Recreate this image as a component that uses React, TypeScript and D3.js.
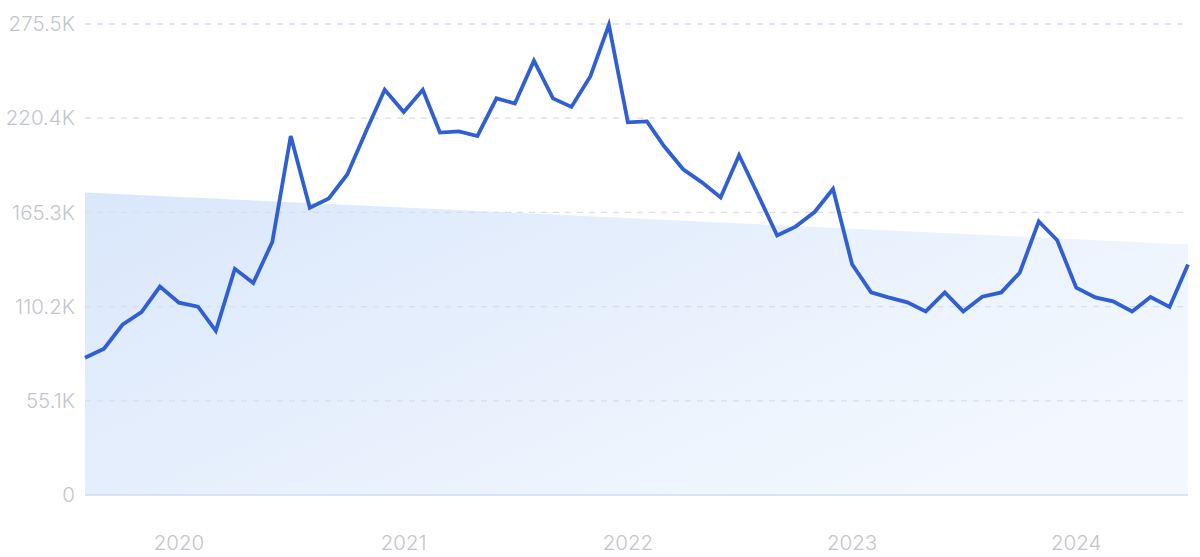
import { useRef, useEffect } from 'react';
import * as d3 from 'd3';

// monthly values, Aug 2019 .. Jul 2024
const startMonth = '2019-08';
const values = [
  80.3, 85.6, 99.6, 107, 121.9, 112.5, 110.2, 96, 132.3, 124,
  148, 210, 168, 173.5, 187.5, 213, 237, 224, 237, 212,
  212.7, 210, 232, 229, 254, 232, 227, 245, 275, 218,
  218.5, 204, 190.5, 183, 174, 198.7, 175.5, 151.8, 157, 165.5,
  179, 135, 118.5, 115.6, 112.7, 107.4, 118.5, 107.4, 116, 118.5,
  130, 160, 149, 121.3, 115.6, 113.3, 107.4, 115.8, 110, 134.8,
].map(v => v * 1000);

const yTicks = [0, 55100, 110200, 165300, 220400, 275500];
const yTickLabels = ['0', '55.1K', '110.2K', '165.3K', '220.4K', '275.5K'];
const xTickYears = ['2020', '2021', '2022', '2023', '2024'];
const trendStartEnd = [177000, 146500];

const W = 1200;
const H = 557;

export default function App() {
  const ref = useRef<SVGSVGElement | null>(null);

  useEffect(() => {
    const svg = d3.select(ref.current);
    svg.selectAll('*').remove();

    const margin = { top: 24, right: 12, bottom: 62, left: 85 };
    const parse = d3.timeParse('%Y-%m');
    const t0 = parse(startMonth)!;
    const dates = values.map((_, i) => d3.timeMonth.offset(t0, i));
    const data = values.map((v, i) => ({ date: dates[i], value: v }));

    const x = d3
      .scaleTime()
      .domain([dates[0], dates[dates.length - 1]])
      .range([margin.left, W - margin.right]);

    const y = d3
      .scaleLinear()
      .domain([0, 275500])
      .range([H - margin.bottom, margin.top]);

    const defs = svg.append('defs');
    const grad = defs
      .append('linearGradient')
      .attr('id', 'trendFill')
      .attr('x1', '0%')
      .attr('y1', '0%')
      .attr('x2', '100%')
      .attr('y2', '60%');
    grad.append('stop').attr('offset', '0%').attr('stop-color', '#dae7fb');
    grad.append('stop').attr('offset', '100%').attr('stop-color', '#f3f8fe');

    // trend area
    const trend = [
      { date: dates[0], value: trendStartEnd[0] },
      { date: dates[dates.length - 1], value: trendStartEnd[1] },
    ];
    const area = d3
      .area<{ date: Date; value: number }>()
      .x(d => x(d.date))
      .y0(y(0))
      .y1(d => y(d.value));
    svg.append('path').datum(trend).attr('fill', 'url(#trendFill)').attr('d', area);

    // grid
    const grid = svg.append('g');
    yTicks.forEach((t, i) => {
      if (i === 0) return;
      grid
        .append('line')
        .attr('x1', margin.left)
        .attr('x2', W - margin.right)
        .attr('y1', y(t))
        .attr('y2', y(t))
        .attr('stroke', '#d6dfee')
        .attr('stroke-width', 1.3)
        .attr('stroke-dasharray', '6,6');
    });
    grid
      .append('line')
      .attr('x1', margin.left)
      .attr('x2', W - margin.right)
      .attr('y1', y(0))
      .attr('y2', y(0))
      .attr('stroke', '#cddcf2')
      .attr('stroke-width', 1.5);

    const font = 'Inter, "Noto Sans", sans-serif';

    // y labels
    svg
      .append('g')
      .selectAll('text')
      .data(yTicks)
      .join('text')
      .attr('x', 75)
      .attr('y', d => y(d))
      .attr('dy', '0.35em')
      .attr('text-anchor', 'end')
      .attr('fill', '#c3c5cc')
      .style('font-family', font)
      .style('font-weight', 300)
      .style('font-size', '20.5px')
      .text((_, i) => yTickLabels[i]);

    // x labels
    svg
      .append('g')
      .selectAll('text')
      .data(xTickYears)
      .join('text')
      .attr('x', d => x(new Date(+d, 0, 1)))
      .attr('y', 543)
      .attr('dy', '0.35em')
      .attr('text-anchor', 'middle')
      .attr('fill', '#c3c5cc')
      .style('font-family', font)
      .style('font-weight', 300)
      .style('font-size', '20.5px')
      .text(d => d);

    // line
    const line = d3
      .line<{ date: Date; value: number }>()
      .x(d => x(d.date))
      .y(d => y(d.value));
    svg
      .append('path')
      .datum(data)
      .attr('fill', 'none')
      .attr('stroke', '#2f5fd3')
      .attr('stroke-width', 3.8)
      .attr('stroke-linejoin', 'miter')
      .attr('d', line);
  }, []);

  return (
    <svg
      ref={ref}
      width={W}
      height={H}
      style={{ position: 'absolute', left: 0, top: 0, background: '#fff' }}
    ></svg>
  );
}
